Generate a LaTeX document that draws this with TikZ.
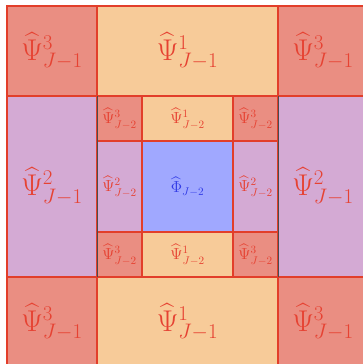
\documentclass[tikz,border=0pt]{standalone}
\usepackage{fix-cm}
\usepackage{amsmath}
\usepackage{xcolor}
\usepackage{tikz}
\usetikzlibrary{positioning}
\definecolor{mysalmon}{RGB}{234,142,130}
\definecolor{myorange}{RGB}{247,203,153}
\definecolor{mypurple}{RGB}{212,170,212}
\definecolor{myblue}{RGB}{160,168,255}
\definecolor{myred}{RGB}{226,62,42}
\definecolor{mytext}{RGB}{230,66,50}
\definecolor{mybluetext}{RGB}{50,60,230}
\definecolor{myedge}{RGB}{40,40,230}
\tikzstyle{cell} = [rectangle, draw=myred, line width=1.8pt, inner sep=0pt, outer sep=0pt, text=mytext]
\tikzstyle{bigcorner} = [cell, minimum width=90pt, minimum height=90pt, fill=mysalmon, font=\fontsize{30}{32}\selectfont]
\tikzstyle{bighedge} = [cell, minimum width=181pt, minimum height=90pt, fill=myorange, font=\fontsize{30}{32}\selectfont]
\tikzstyle{bigvedge} = [cell, minimum width=90pt, minimum height=181pt, fill=mypurple, font=\fontsize{30}{32}\selectfont]
\tikzstyle{smallcorner} = [cell, minimum width=45pt, minimum height=45pt, fill=mysalmon, font=\fontsize{16}{17}\selectfont]
\tikzstyle{smallhedge} = [cell, minimum width=91pt, minimum height=45pt, fill=myorange, font=\fontsize{16}{17}\selectfont]
\tikzstyle{smallvedge} = [cell, minimum width=45pt, minimum height=91pt, fill=mypurple, font=\fontsize{16}{17}\selectfont]
\tikzstyle{coarse} = [cell, draw=myedge, minimum width=91pt, minimum height=91pt, fill=myblue, text=mybluetext, font=\fontsize{16}{17}\selectfont]
\tikzstyle{seam} = [line width=1pt, draw=black!70]

\begin{document}
\begin{tikzpicture}[x=1pt, y=1pt, node distance=0pt]
    \useasboundingbox (0,0) rectangle (363,-364);
    % outer level J-1
    \node (nw) [bigcorner, anchor=north west] at (7,-6) {$\widehat{\Psi}^3_{J-1}$};
    \node (n) [bighedge, right=of nw] {$\widehat{\Psi}^1_{J-1}$};
    \node (ne) [bigcorner, right=of n] {$\widehat{\Psi}^3_{J-1}$};
    \node (w) [bigvedge, below=of nw] {$\widehat{\Psi}^2_{J-1}$};
    \node (e) [bigvedge, below=of ne] {$\widehat{\Psi}^2_{J-1}$};
    \node (sw) [bigcorner, below=of w] {$\widehat{\Psi}^3_{J-1}$};
    \node (s) [bighedge, right=of sw] {$\widehat{\Psi}^1_{J-1}$};
    \node (se) [bigcorner, right=of s] {$\widehat{\Psi}^3_{J-1}$};
    % inner level J-2
    \node (phi) [coarse] at (n |- w) {$\widehat{\Phi}_{J-2}$};
    \node (in) [smallhedge, above=of phi] {$\widehat{\Psi}^1_{J-2}$};
    \node (is) [smallhedge, below=of phi] {$\widehat{\Psi}^1_{J-2}$};
    \node (iw) [smallvedge, left=of phi] {$\widehat{\Psi}^2_{J-2}$};
    \node (ie) [smallvedge, right=of phi] {$\widehat{\Psi}^2_{J-2}$};
    \node (inw) [smallcorner, left=of in] {$\widehat{\Psi}^3_{J-2}$};
    \node (ine) [smallcorner, right=of in] {$\widehat{\Psi}^3_{J-2}$};
    \node (isw) [smallcorner, left=of is] {$\widehat{\Psi}^3_{J-2}$};
    \node (ise) [smallcorner, right=of is] {$\widehat{\Psi}^3_{J-2}$};
    \draw [seam] (inw.north west) -- (isw.south west);
    \draw [seam] (ine.north east) -- (ise.south east);
\end{tikzpicture}
\end{document}
